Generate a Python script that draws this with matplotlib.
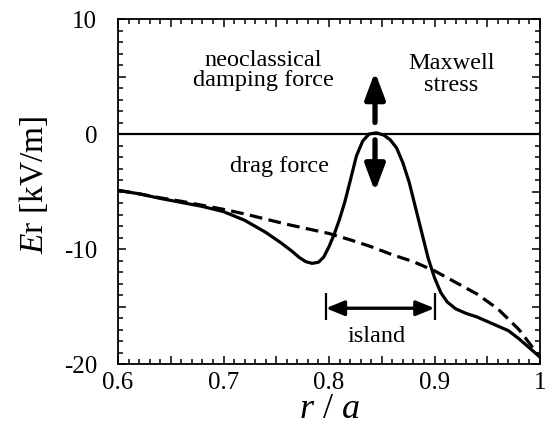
import numpy as np
import matplotlib
matplotlib.use('Agg')
from matplotlib import pyplot as plt
from matplotlib.patches import FancyArrowPatch, ArrowStyle

plt.rcParams['font.family'] = ['Liberation Serif', 'DejaVu Serif']
plt.rcParams['mathtext.fontset'] = 'custom'
plt.rcParams['mathtext.rm'] = 'Liberation Serif'
plt.rcParams['mathtext.it'] = 'Liberation Serif:italic'
plt.rcParams['axes.unicode_minus'] = False

# Er profile with island (solid) and without (dashed)
r_solid = [0.600, 0.620, 0.640, 0.660, 0.680, 0.700, 0.720, 0.740, 0.755,
           0.765, 0.772, 0.778, 0.784, 0.790, 0.795, 0.800, 0.805, 0.810,
           0.815, 0.820, 0.826, 0.832, 0.838, 0.845, 0.852, 0.858, 0.864,
           0.870, 0.876, 0.882, 0.888, 0.894, 0.900, 0.906, 0.912, 0.920,
           0.930, 0.940, 0.950, 0.960, 0.970, 0.980, 0.990, 1.000]
er_solid = [-4.9, -5.2, -5.6, -5.95, -6.3, -6.75, -7.5, -8.55, -9.5,
            -10.2, -10.75, -11.1, -11.25, -11.15, -10.7, -9.8, -8.7, -7.4,
            -5.9, -4.1, -1.9, -0.6, 0.0, 0.1, -0.1, -0.5, -1.2,
            -2.5, -4.2, -6.4, -8.6, -10.8, -12.5, -13.8, -14.6, -15.2,
            -15.6, -15.9, -16.3, -16.7, -17.1, -17.8, -18.6, -19.4]

r_dash = [0.600, 0.620, 0.640, 0.660, 0.680, 0.700, 0.720, 0.740, 0.760,
          0.780, 0.800, 0.820, 0.840, 0.860, 0.880, 0.900, 0.920, 0.940,
          0.960, 0.980, 0.990, 1.000]
er_dash = [-4.9, -5.2, -5.55, -5.85, -6.2, -6.55, -6.95, -7.4, -7.85,
           -8.25, -8.65, -9.2, -9.8, -10.5, -11.1, -11.9, -12.9, -13.9,
           -15.2, -17.0, -18.2, -19.4]

x_ticks = [0.6, 0.65, 0.7, 0.75, 0.8, 0.85, 0.9, 0.95, 1.0]
x_labels = ['0.6', '', '0.7', '', '0.8', '', '0.9', '', '1']
y_ticks = [-20, -15, -10, -5, 0, 5, 10]
y_labels = ['-20', '', '-10', '', '0', '', '10']

fig = plt.figure(figsize=(5.53, 4.32), dpi=100)
ax = fig.add_axes([0.2134, 0.1574, 0.7631, 0.7986])

ax.axhline(0, color='k', lw=1.6)
ax.plot(r_dash, er_dash, color='k', lw=2.3, dashes=(4, 2))
ax.plot(r_solid, er_solid, color='k', lw=2.3)

ax.set_xlim(0.6, 1.0)
ax.set_ylim(-20, 10)
ax.set_xticks(x_ticks, labels=x_labels)
ax.set_yticks(y_ticks, labels=y_labels)
ax.set_xticks(np.arange(0.6, 1.0001, 0.01), minor=True)
ax.set_yticks(np.arange(-20, 10.5, 1), minor=True)
ax.tick_params(which='both', direction='in', top=True, right=True,
               labelsize=18, width=1.1)
ax.tick_params(which='major', length=6)
ax.tick_params(which='minor', length=3.5)
ax.tick_params(axis='x', pad=6)
ax.tick_params(axis='y', pad=15)
for sp in ax.spines.values():
    sp.set_linewidth(1.3)

ax.set_xlabel(r'$\mathit{r}$ / $\mathit{a}$', fontsize=26)
ax.xaxis.set_label_coords(0.5, -0.085)
ax.set_ylabel(r'$\mathit{E}\mathrm{r}$ [kV/m]', fontsize=24)
ax.yaxis.set_label_coords(-0.16, 0.52)

# force arrows at the peak
up = FancyArrowPatch((0.8436, 1.0), (0.8436, 5.4), mutation_scale=1,
                     arrowstyle=ArrowStyle('-|>', head_length=16, head_width=6),
                     lw=3.8, color='k', shrinkA=0, shrinkB=0)
down = FancyArrowPatch((0.8436, -0.5), (0.8436, -5.0), mutation_scale=1,
                       arrowstyle=ArrowStyle('-|>', head_length=16, head_width=6),
                       lw=3.8, color='k', shrinkA=0, shrinkB=0)
ax.add_patch(up)
ax.add_patch(down)

# island width
isl = FancyArrowPatch((0.797, -15.15), (0.9, -15.15), mutation_scale=1,
                      arrowstyle=ArrowStyle('<|-|>', head_length=11, head_width=4.5),
                      lw=2.4, color='k', shrinkA=0, shrinkB=0)
ax.add_patch(isl)
ax.vlines([0.797, 0.9], -16.2, -13.8, color='k', lw=1.6)

ax.text(0.7374, 5.55, 'neoclassical\ndamping force', fontsize=17.5,
        ha='center', va='center', linespacing=0.95)
ax.text(0.916, 5.2, 'Maxwell\nstress', fontsize=17.5,
        ha='center', va='center', linespacing=1.05)
ax.text(0.7526, -2.8, 'drag force', fontsize=17.5, ha='center', va='center')
ax.text(0.845, -17.6, 'island', fontsize=17.5, ha='center', va='center')

fig.savefig('out.png', dpi=100)
